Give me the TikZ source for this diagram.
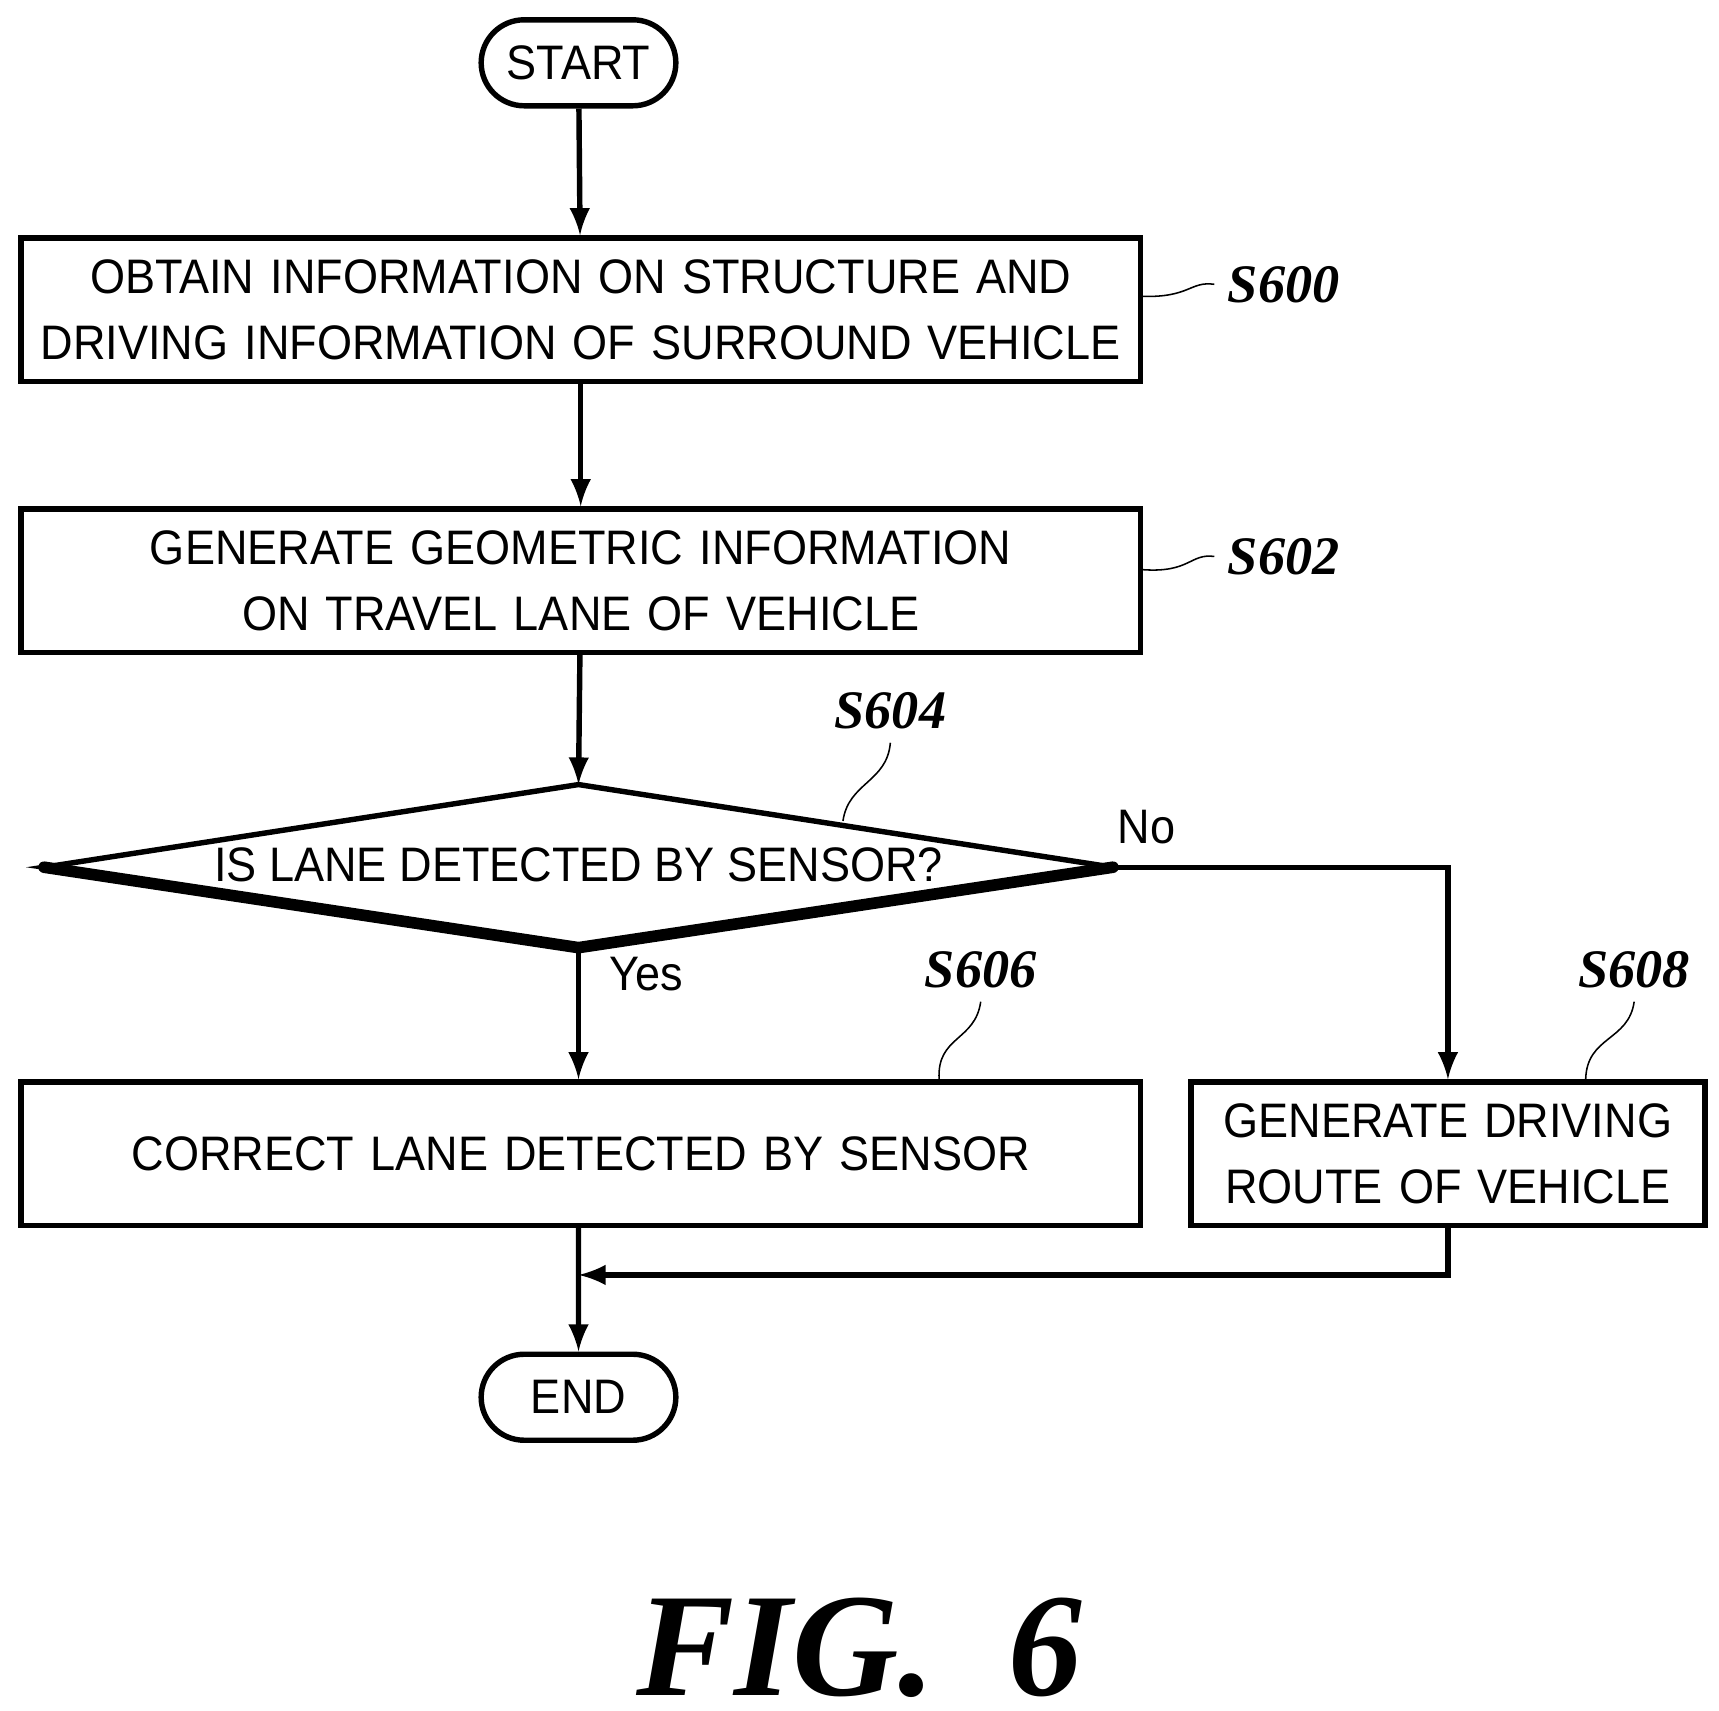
\documentclass[tikz,border=0pt]{standalone}
\usepackage{fontspec}
\setmainfont[FakeStretch=0.93]{Liberation Sans}
\newfontfamily\labelfont{Liberation Serif}
\usetikzlibrary{positioning,shapes.misc}
\begin{document}
\begin{tikzpicture}[
        x=0.01cm, y=-0.01cm,
        box/.style={draw, line width=1.4pt, align=center, minimum height=1.3cm, inner sep=0pt, font=\fontsize{12.5}{17}\selectfont},
        term/.style={draw, line width=1.4pt, rounded rectangle, minimum width=2cm, minimum height=0.78cm, font=\fontsize{12.5}{16}\selectfont},
        steplabel/.style={font=\labelfont\bfseries\itshape\fontsize{14}{14}\selectfont},
        flow/.style={line width=1.4pt, -latex},
        >=latex
    ]
    \useasboundingbox (0,0) rectangle (1560,1552);

    \node[term] (start) at (525,57) {START};
    \node[box, text width=10.15cm] (s600) at (527,281) {OBTAIN INFORMATION ON STRUCTURE AND\\DRIVING INFORMATION OF SURROUND VEHICLE};
    \node[box, text width=10.15cm] (s602) at (527,527) {GENERATE GEOMETRIC INFORMATION\\ON TRAVEL LANE OF VEHICLE};

    % decision drawn directly
    \coordinate (dtop) at (525,712);
    \coordinate (dbot) at (525,860);
    \coordinate (dleft) at (40,787);
    \coordinate (dright) at (1010,787);
    \draw[line width=1.4pt, line join=miter] (dleft) -- (dtop) -- (dright) -- (dbot) -- cycle;
    \draw[line width=3pt, line join=round, line cap=round] (dleft) -- (dbot) -- (dright);
    \node[font=\fontsize{12.5}{16}\selectfont] (dtext) at (525,785) {IS LANE DETECTED BY SENSOR?};

    \node[box, text width=10.15cm] (s606) at (527,1047) {CORRECT LANE DETECTED BY SENSOR};
    \node[box, text width=4.66cm] (s608) at (1314,1047) {GENERATE DRIVING\\ROUTE OF VEHICLE};
    \node[term] (end) at (525,1268) {END};

    % step labels
    \node[steplabel] (l600) at (1165,258) {S600};
    \node[steplabel] (l602) at (1165,505) {S602};
    \node[steplabel] (l604) at (808,645) {S604};
    \node[steplabel] (l606) at (890,880) {S606};
    \node[steplabel] (l608) at (1483,880) {S608};
    \draw (s600.east) ++(0,-12) .. controls (1080,270) and (1080,255) .. (l600.west);
    \draw (s602.east) ++(0,-10) .. controls (1080,520) and (1080,502) .. (l602.west);
    \draw (765,745) .. controls (770,710) and (805,710) .. (l604.south);
    \draw (s606.north east) ++(-185,0) .. controls (850,940) and (885,945) .. (l606.south);
    \draw (s608.north) ++(125,0) .. controls (1440,940) and (1478,945) .. (l608.south);

    % connectors
    \draw[flow] (start) -- (s600);
    \draw[flow] (s600) -- (s602);
    \draw[flow] (s602) -- (dtop);
    \draw[flow] (dbot) -- node[pos=0.2, right=4pt, font=\fontsize{12.5}{16}\selectfont] {Yes} (s606.north -| dbot);
    \draw[flow] (dright) -- node[pos=0.1, above=2pt, font=\fontsize{12.5}{16}\selectfont] {No} (dright -| s608.north) -- (s608.north);
    \draw[flow] (s608.south) |- (525,1157);
    \draw[flow] (s606.south -| end) -- (end);

    \node[font=\labelfont\bfseries\itshape\fontsize{38}{38}\selectfont] (fig) at (780,1495) {FIG.~~6};
\end{tikzpicture}
\end{document}
